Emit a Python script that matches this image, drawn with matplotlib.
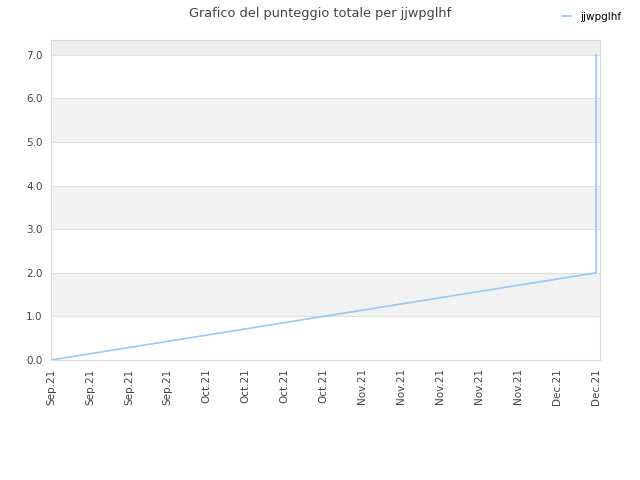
import matplotlib
matplotlib.use('Agg')
import matplotlib.pyplot as plt

# values
tick_labels = ['Sep.21', 'Sep.21', 'Sep.21', 'Sep.21', 'Oct.21', 'Oct.21', 'Oct.21', 'Oct.21',
               'Nov.21', 'Nov.21', 'Nov.21', 'Nov.21', 'Nov.21', 'Dec.21', 'Dec.21']
x_points = [0, 14, 14]
scores = [0, 2, 7]
series_name = 'jjwpglhf'

fig = plt.figure(figsize=(6.4, 4.8), dpi=100)
ax = fig.add_axes([0.0797, 0.25, 0.8578, 0.6667])

# alternating bands
for i in range(8):
    col = 'white' if i % 2 == 0 else '#f2f2f2'
    if i == 7:
        col = '#eeeeee'
    ax.axhspan(i, i + 1, color=col, zorder=0, lw=0)
for i in range(1, 8):
    ax.axhline(i, color='#e0e0e0', lw=0.8, zorder=1)

ax.plot(x_points, scores, color='#99c8f5', lw=1.2, label=series_name, zorder=3)

ax.set_xlim(0, 14.1)
ax.set_ylim(0, 7.34)
ax.set_yticks(range(8))
ax.set_yticklabels([f'{v:.1f}' for v in range(8)])
ax.set_xticks(range(len(tick_labels)))
ax.set_xticklabels(tick_labels, rotation=90)
ax.tick_params(length=0, labelsize=7.5, colors='#444444', pad=6)
for s in ax.spines.values():
    s.set_color('#d9d9d9')

fig.suptitle('Grafico del punteggio totale per jjwpglhf', x=0.5, y=0.985, fontsize=9.3, color='#444444')
fig.legend(loc='upper right', bbox_to_anchor=(0.985, 0.995), frameon=False, fontsize=7.5,
           handlelength=0.8, handletextpad=0.9)

fig.savefig('out.png')
